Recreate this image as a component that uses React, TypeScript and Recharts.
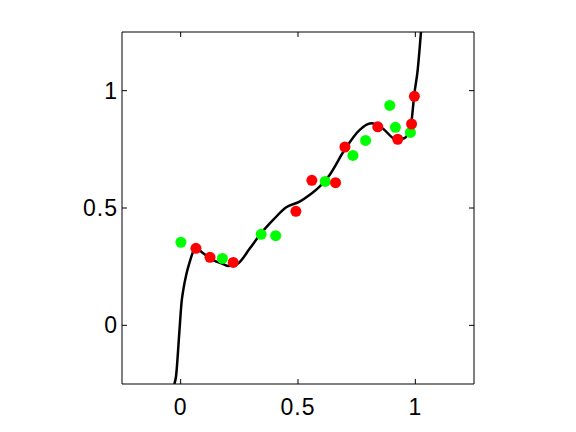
import React from "react";
import {
  ComposedChart,
  Line,
  Scatter,
  XAxis,
  YAxis,
} from "recharts";

// sample points
const greenX = [0.001, 0.178, 0.343, 0.405, 0.616, 0.734, 0.788, 0.891, 0.915, 0.979];
const greenY = [0.354, 0.285, 0.388, 0.382, 0.613, 0.724, 0.788, 0.937, 0.844, 0.822];

const redX = [0.065, 0.125, 0.224, 0.491, 0.559, 0.66, 0.7, 0.84, 0.925, 0.984, 0.996];
const redY = [0.328, 0.29, 0.268, 0.486, 0.618, 0.608, 0.76, 0.846, 0.793, 0.858, 0.976];

// fitted curve, traced
const curveX = [
  -0.027, -0.02, -0.006, 0.004, 0.011, 0.025, 0.04, 0.055, 0.065, 0.096, 0.139,
  0.181, 0.203, 0.22, 0.245, 0.295, 0.337, 0.394, 0.45, 0.507, 0.549, 0.592,
  0.634, 0.698, 0.762, 0.812, 0.861, 0.918, 0.953, 0.982, 0.996, 1.01, 1.024,
];
const curveY = [
  -0.25, -0.219, -0.034, 0.1, 0.15, 0.221, 0.275, 0.318, 0.33, 0.307, 0.278,
  0.261, 0.253, 0.255, 0.264, 0.328, 0.385, 0.449, 0.503, 0.527, 0.555, 0.591,
  0.64, 0.747, 0.832, 0.861, 0.839, 0.792, 0.797, 0.861, 0.988, 1.088, 1.25,
];

const ticks = [0, 0.5, 1];
const tickLabels = ["0", "0.5", "1"];

const green = greenX.map((x, i) => ({ x, y: greenY[i] }));
const red = redX.map((x, i) => ({ x, y: redY[i] }));
const curve = curveX.map((x, i) => ({ x, y: curveY[i] }));

const font = "'Liberation Sans', Arial, sans-serif";
const label = (v: number) => tickLabels[ticks.indexOf(v)] ?? String(v);

function AxisTick(props: any) {
  const { x, y, payload, side } = props;
  const len = 5;
  let line;
  let text = null;
  if (side === "bottom") {
    line = <line x1={x} y1={y} x2={x} y2={y - len} stroke="#000" />;
    text = (
      <text x={x} y={y + 31} textAnchor="middle" fontSize={23} fontFamily={font} letterSpacing={1}>
        {label(payload.value)}
      </text>
    );
  } else if (side === "top") {
    line = <line x1={x} y1={y} x2={x} y2={y + len} stroke="#000" />;
  } else if (side === "left") {
    line = <line x1={x} y1={y} x2={x + len} y2={y} stroke="#000" />;
    text = (
      <text x={x - 4} y={y + 8} textAnchor="end" fontSize={23} fontFamily={font} letterSpacing={1}>
        {label(payload.value)}
      </text>
    );
  } else {
    line = <line x1={x} y1={y} x2={x - len} y2={y} stroke="#000" />;
  }
  return (
    <g>
      {line}
      {text}
    </g>
  );
}

const Dot = (color: string) => (p: any) =>
  <circle cx={p.cx} cy={p.cy} r={5.5} fill={color} />;

const axisCommon = {
  type: "number" as const,
  domain: [-0.25, 1.25],
  allowDataOverflow: true,
  ticks,
  tickSize: 0,
  tickMargin: 0,
  tickLine: false,
  axisLine: { stroke: "#000" },
};

export default function App() {
  return (
    <div style={{ position: "absolute", left: 0, top: 0, background: "#fff" }}>
      <ComposedChart
        width={576}
        height={432}
        margin={{ top: 31, right: 101, bottom: 47, left: 121 }}
      >
        <XAxis
          {...axisCommon}
          xAxisId="b"
          dataKey="x"
          height={1}
          tick={(p: any) => <AxisTick {...p} side="bottom" />}
        />
        <XAxis
          {...axisCommon}
          xAxisId="t"
          orientation="top"
          dataKey="x"
          height={1}
          tick={(p: any) => <AxisTick {...p} side="top" />}
        />
        <YAxis
          {...axisCommon}
          yAxisId="l"
          width={1}
          tick={(p: any) => <AxisTick {...p} side="left" />}
        />
        <YAxis
          {...axisCommon}
          yAxisId="r"
          orientation="right"
          width={1}
          tick={(p: any) => <AxisTick {...p} side="right" />}
        />
        <Line
          xAxisId="b"
          yAxisId="l"
          data={curve}
          dataKey="y"
          type="monotone"
          stroke="#000"
          strokeWidth={2.5}
          dot={false}
          isAnimationActive={false}
        />
        <Scatter
          xAxisId="b"
          yAxisId="l"
          data={green}
          dataKey="y"
          shape={Dot("#00ff00")}
          isAnimationActive={false}
        />
        <Scatter
          xAxisId="b"
          yAxisId="l"
          data={red}
          dataKey="y"
          shape={Dot("#ff0000")}
          isAnimationActive={false}
        />
      </ComposedChart>
    </div>
  );
}
